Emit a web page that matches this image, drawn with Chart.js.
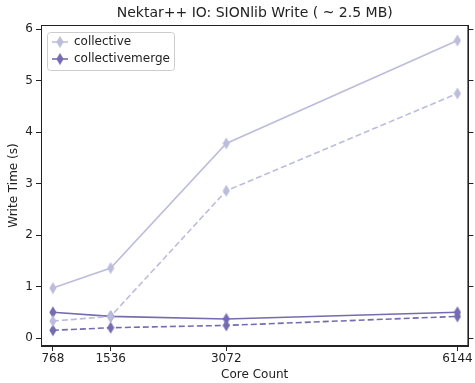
<!DOCTYPE html>
<html>
<head>
<meta charset="utf-8">
<script src="https://cdn.jsdelivr.net/npm/chart.js@4/dist/chart.umd.min.js"></script>
<style>
  body { margin: 0; background: #fff; }
  #wrap { width: 475px; height: 383px; }
</style>
</head>
<body>
<div id="wrap"><canvas id="io-chart" width="475" height="383"></canvas></div>
<script>
// data
const cores = [768, 1536, 3072, 6144];
const collective = [0.97, 1.36, 3.78, 5.78];
const collectiveDashed = [0.33, 0.42, 2.86, 4.75];
const collectiveMerge = [0.50, 0.42, 0.37, 0.50];
const collectiveMergeDashed = [0.15, 0.20, 0.245, 0.42];
const yTicks = [0, 1, 2, 3, 4, 5, 6];
const legendLabels = ["collective", "collectivemerge"];
const chartTitle = "Nektar++ IO: SIONlib Write ( ~ 2.5 MB)";

const light = "#bcbddc";
const dark = "#756bb1";
const ink = "#222";

// thin diamond marker (matplotlib 'd')
function diamond(color) {
  const c = document.createElement("canvas");
  c.width = 8;
  c.height = 13;
  const g = c.getContext("2d");
  g.fillStyle = color;
  g.beginPath();
  g.moveTo(4, 0.5);
  g.lineTo(7.6, 6.5);
  g.lineTo(4, 12.5);
  g.lineTo(0.4, 6.5);
  g.closePath();
  g.fill();
  return c;
}

function series(label, ys, color, dashed) {
  return {
    label: label,
    data: cores.map((x, i) => ({ x: x, y: ys[i] })),
    borderColor: color,
    backgroundColor: color,
    borderWidth: 1.6,
    borderDash: dashed ? [6, 3] : [],
    pointStyle: diamond(color),
    pointRadius: 5,
    pointHoverRadius: 5,
    tension: 0,
  };
}

const font = { family: "DejaVu Sans", size: 12 };

// full box round the axes, title centred over the axes, matplotlib-like legend
const framePlugin = {
  id: "frame",
  afterDraw(chart) {
    const a = chart.chartArea;
    const ctx = chart.ctx;
    ctx.save();
    ctx.strokeStyle = ink;
    ctx.lineWidth = 1;
    ctx.strokeRect(a.left + 0.5, a.top + 0.5, a.right - a.left - 1, a.bottom - a.top - 1);

    // title
    ctx.fillStyle = ink;
    ctx.font = "14px 'DejaVu Sans'";
    ctx.textAlign = "center";
    ctx.textBaseline = "alphabetic";
    ctx.fillText(chartTitle, (a.left + a.right) / 2, 17);

    // legend
    ctx.textAlign = "left";
    ctx.fillStyle = "rgba(255,255,255,0.8)";
    ctx.strokeStyle = "#cccccc";
    ctx.beginPath();
    ctx.roundRect(47.5, 32.5, 127, 38, 3);
    ctx.fill();
    ctx.stroke();
    const colors = [light, dark];
    legendLabels.forEach((text, i) => {
      const y = 42 + i * 17;
      ctx.strokeStyle = colors[i];
      ctx.lineWidth = 1.6;
      ctx.beginPath();
      ctx.moveTo(52, y);
      ctx.lineTo(68, y);
      ctx.stroke();
      ctx.drawImage(diamond(colors[i]), 56, y - 6.5);
      ctx.fillStyle = ink;
      ctx.font = "12px 'DejaVu Sans'";
      ctx.textBaseline = "middle";
      ctx.fillText(text, 74, y);
    });
    ctx.restore();
  },
};

const ctx = document.getElementById("io-chart").getContext("2d");

const ioChart = new Chart(ctx, {
  type: "line",
  data: {
    datasets: [
      series("collective", collective, light, false),
      series("collective dashed", collectiveDashed, light, true),
      series("collectivemerge", collectiveMerge, dark, false),
      series("collectivemerge dashed", collectiveMergeDashed, dark, true),
    ],
  },
  options: {
    responsive: false,
    animation: false,
    layout: { padding: { left: 0, right: 0, top: 25, bottom: 0 } },
    plugins: {
      title: { display: false },
      legend: { display: false },
      tooltip: { enabled: false },
    },
    scales: {
      x: {
        type: "linear",
        min: 610,
        max: 6290,
        afterBuildTicks: (s) => { s.ticks = cores.map((v) => ({ value: v })); },
        afterFit: (s) => { s.height = 37; s.paddingLeft = 0; s.paddingRight = 0; },
        ticks: { color: ink, font: font, padding: 1, maxRotation: 0, autoSkip: false, callback: (v) => String(v) },
        grid: { drawOnChartArea: false, tickLength: 5, color: ink },
        border: { color: ink },
        title: { display: true, text: "Core Count", color: ink, font: font, padding: { top: 0, bottom: 1 } },
      },
      y: {
        min: -0.155,
        max: 6.08,
        afterBuildTicks: (s) => { s.ticks = yTicks.map((v) => ({ value: v })); },
        afterFit: (s) => { s.width = 41; s.paddingTop = 0; s.paddingBottom = 0; },
        ticks: { color: ink, font: font, padding: 3 },
        grid: { drawOnChartArea: false, tickLength: 5, color: ink },
        border: { color: ink },
        title: { display: true, text: "Write Time (s)", color: ink, font: font, padding: { top: 7, bottom: 0 } },
      },
      y2: {
        position: "right",
        min: -0.155,
        max: 6.08,
        afterBuildTicks: (s) => { s.ticks = yTicks.map((v) => ({ value: v })); },
        afterFit: (s) => { s.width = 5; s.paddingTop = 0; s.paddingBottom = 0; },
        ticks: { display: false },
        grid: { drawOnChartArea: false, tickLength: 5, color: ink },
        border: { color: ink },
      },
    },
  },
  plugins: [framePlugin],
});
</script>
</body>
</html>
